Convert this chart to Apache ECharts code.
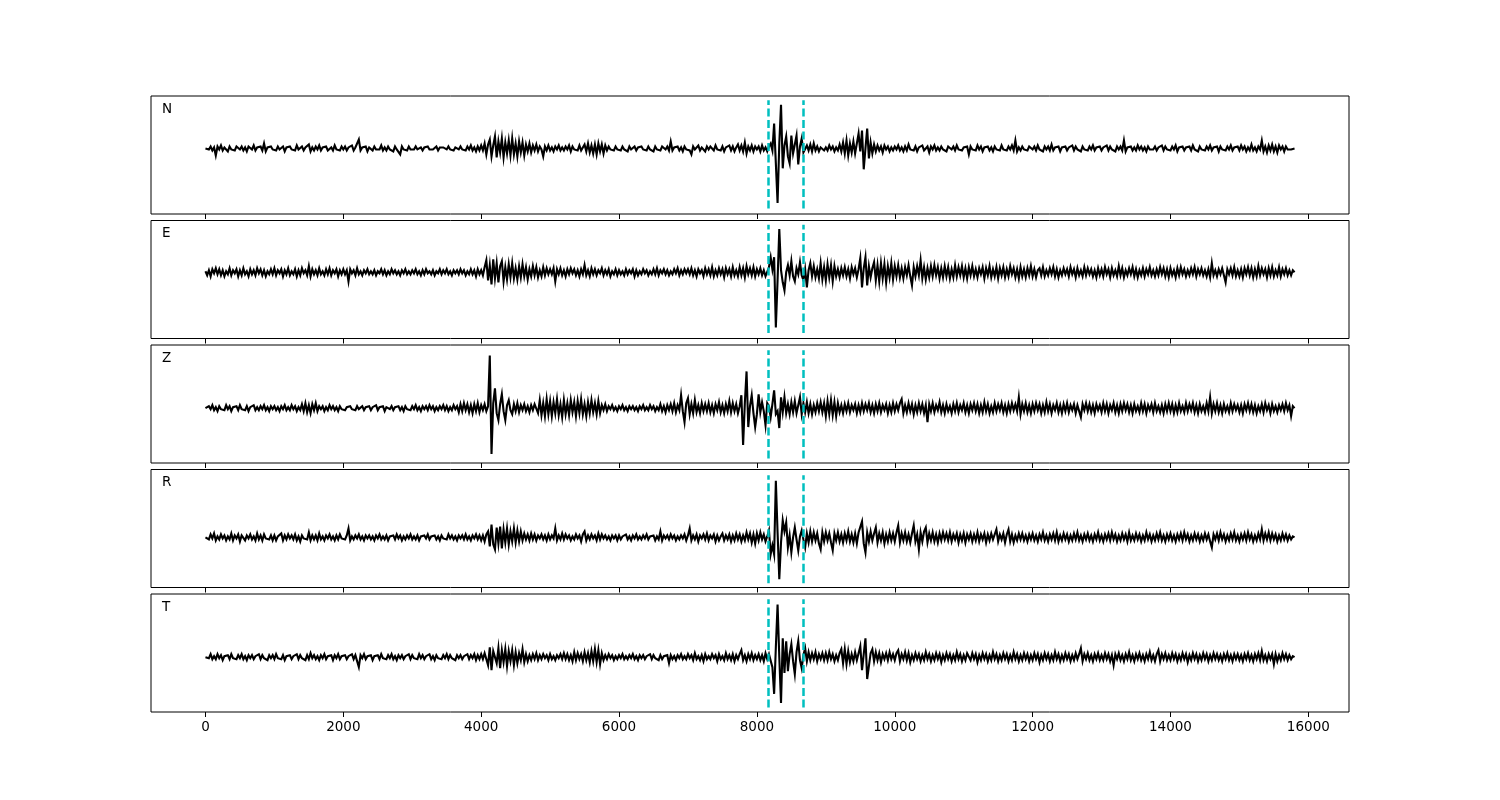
<!DOCTYPE html>
<html>
<head>
<meta charset="utf-8">
<script src="https://cdn.jsdelivr.net/npm/echarts@6/dist/echarts.min.js"></script>
<style>html,body{margin:0;padding:0;background:#fff;}#chart{width:1500px;height:800px;}</style>
</head>
<body>
<div id="chart"></div>
<script>
// Sample spacing between the read values (x = index * STEP)
const STEP = 25;
const channels = ['N', 'E', 'Z', 'R', 'T'];
const xTicks = [0, 2000, 4000, 6000, 8000, 10000, 12000, 14000, 16000];
const pickTimes = [8160, 8670];

const traceN = [
  0, 1, -1, 2, -2, 1, -7, 2, -1, 3,  -2, 1, 0, -3, 2, -1, 1, -2, 2, 0,  -1, 2, -2, 1, -3, 2, 0, -1, 3, -2,  1, -1, 2, -2, 5, -3, 1, -1, 2, -1,
  1, -2, 2, -1, 0, 2, -3, 1, -1, 2,  -1, 1, -2, 3, -1, 0, 2, -2, 1, -1,  4, -3, 1, -2, 2, -1, 3, -2, 1, -1,  2, -2, 0, 1, -2, 3, -1, 1, -2, 2,
  -1, 2, -2, 1, -1, 3, -2, 1, 0, 9,  -2, 1, -1, 2, -3, 1, 0, -2, 2, -1,  1, -1, 3, -2, 1, -2, 2, -1, 1, -3,  2, -1, 1, -6, 2, -1, 1, -2, 2, -1,
  1, -1, 2, -1, 0, 1, -2, 1, -1, 2,  -1, 1, -1, 0, 2, -2, 1, -1, 1, 0,  -1, 2, -1, 1, -2, 1, 0, -1, 2, -1,  1, -2, 2, -1, 3, -2, 1, -3, 2, -2,
  3, -2, 5, -6, 4, 9, -8, 3, 12, -9,  7, -4, 10, -9, 6, -5, 8, -7, 10, -6,  5, -8, 7, -4, 6, -7, 4, -3, 5, -4,  3, -2, 4, -3, 2, -1, -8, 2, -2, 3,
  -2, 1, -3, 2, -1, 3, -2, 1, -2, 2,  -1, 3, -3, 2, -1, 1, -2, 3, -2, 1,  4, -3, 5, -4, 3, -5, 4, -6, 5, -3,  4, -5, 3, -2, 2, -1, 1, -2, 2, -1,
  1, -2, 2, -1, 1, -3, 2, -1, 0, 2,  -2, 1, -1, 2, -1, 1, -2, 2, -1, 1,  -3, 2, -1, 1, -2, 2, 0, -1, 2, -2,  7, -2, 1, -1, 2, -2, 1, -3, 2, -1,
  1, -2, -6, 2, -1, 1, 3, -2, 1, -1,  -3, 2, -1, 2, 0, -2, 3, -1, 1, -2,  2, -3, 1, -1, 3, -2, 2, -3, 1, 4,  -2, 3, -3, 6, -5, 2, -2, 3, -3, 2,
  -1, 2, -3, 3, -2, 1, -3, 2, 5, -2,  25, -15, -55, 5, 44, -20, 3, 12, -8, -15,  13, -5, 4, 13, -16, 2, 10, -4, -6, 3,  -2, 4, -3, 5, -2, 2, -3, 1, 2, -2,
  1, -2, 3, -1, 2, -3, 1, -2, 4, -3,  6, -5, 8, -7, 5, -4, 7, -5, -6, 15,  -3, 18, -21, 0, 20, -10, 6, -5, 4, -3,  3, -2, 2, -4, 3, -1, 2, -3, 1, -2,
  2, -1, 3, -2, 1, -3, 2, -2, 4, -1,  1, -2, 2, -3, 1, -1, 3, -2, 0, 2,  -4, 2, -1, 3, -2, 1, -2, 2, -1, 1,  -3, 2, 0, -1, 2, -2, 3, -1, 1, -2,
  1, -1, 2, -6, 2, -1, 1, -2, 3, -1,  2, -3, 1, -1, 2, -2, 1, -3, 2, -1,  1, -2, 3, -1, 1, -2, 2, -1, 3, -2,  8, -3, 1, -2, 2, -1, 1, -2, 2, 0,
  -1, 2, -2, 3, -1, 1, -3, 2, -1, 2,  -2, 4, -2, 1, -1, 2, -3, 1, 0, 2,  -2, 1, -1, 3, -2, 2, -1, 1, -3, 2,  -1, 1, -2, 2, -1, 3, -2, 1, -1, 2,
  -2, 1, -1, 3, -2, 2, -1, 1, -3, 2,  -1, 2, -2, 8, -3, 1, -1, 2, -2, 1,  -2, 3, -1, 2, -2, 1, -3, 2, -1, 1,  -1, 2, -2, 1, -1, 3, -2, 2, -1, 1,
  -2, 2, -1, 3, -3, 1, -1, 2, -2, 1,  -1, 2, -2, 3, -1, 1, -3, 2, -1, 1,  -2, 2, -1, 3, -2, 1, -1, 2, -3, 2,  -1, 1, -2, 2, -1, 3, -2, 1, -1, 2,
  -2, 3, -1, 2, -3, 1, -2, 4, -2, 1,  -3, 2, -1, 8, -3, 2, -4, 3, -2, 4,  -3, 2, -4, 3, -1, 2, -3, 2, -1, 1,  -1, 1, 0
];

const traceE = [
  1, -3, 2, -4, 3, -1, 4, -2, 3, -3,  2, -4, 1, -2, 4, -3, 2, -1, 3, -4,  2, -3, 4, -2, 1, -4, 3, -2, 2, -3,  4, -1, 3, -3, 2, -4, 1, -2, 3, -2,
  4, -3, 2, -1, 3, -4, 2, -2, 4, -3,  1, -2, 3, -4, 2, -3, 4, -1, 2, -3,  6, -4, 3, -2, 2, -3, 4, -2, 1, -3,  3, -2, 4, -3, 2, -1, 3, -4, 2, -2,
  3, -2, 2, -9, 3, -1, 2, -3, 4, -2,  1, -3, 2, -1, 3, -2, 1, -2, 2, -3,  1, -1, 3, -2, 2, -3, 1, -2, 3, -1,  2, -2, 1, -3, 2, -1, 3, -2, 1, -2,
  2, -1, 3, -2, 1, -3, 2, -2, 3, -1,  1, -2, 2, -3, 1, -1, 3, -2, 2, -1,  3, -2, 1, -3, 2, -1, 2, -2, 3, -1,  2, -3, 1, -2, 3, -2, 2, -4, 3, -2,
  2, -3, 5, 12, -8, 7, -12, 13, -6, 9,  -10, 6, 11, -9, 5, -7, 8, -5, 9, -6,  4, -7, 6, -5, 8, -4, 5, -7, 3, -4,  6, -3, 5, -5, 2, -4, 5, -3, 4, -2,
  3, -2, 4, -9, 3, -2, 4, -3, 2, -4,  3, -2, 4, -1, 3, -3, 2, -4, 3, -2,  7, -3, 2, -4, 4, -2, 3, -3, 2, -1,  4, -3, 2, -2, 3, -4, 1, -2, 3, -3,
  2, -2, 1, -3, 3, -2, 2, -1, 3, -4,  2, -3, 1, -2, 3, -1, 2, -3, 1, -2,  3, -2, 4, -3, 2, -1, 3, -2, 2, -3,  1, -2, 3, -1, 4, -3, 2, -2, 3, -1,
  3, -2, 4, -3, 2, -4, 3, -1, 2, -4,  4, -2, 3, -3, 5, -4, 2, -3, 4, -2,  3, -5, 4, -2, 3, -4, 5, -3, 2, -4,  5, -3, 4, -5, 6, -2, 4, -3, 5, -4,
  3, -2, 4, -3, 2, -4, -3, 5, 15, 3,  15, -55, -8, 43, 2, -10, -18, 0, 7, -3,  11, -4, -9, 4, -2, 10, -3, -8, 3, -15,  2, 9, -4, 6, -5, 3, -6, 9, -7, 5,
  -8, 8, -5, 7, -9, 6, -4, 3, -5, 4,  -3, 5, -4, 3, -6, 5, -2, 4, -5, 3,  14, -15, 4, 15, -13, 6, -5, 4, 10, -8,  7, -9, 9, -6, 8, -10, 6, -5, 9, -7,
  6, -4, 7, -5, 4, -6, 5, -3, 7, -4,  -13, 5, -4, 6, -3, 12, -6, 5, -7, 4,  -5, 6, -4, 7, -3, 5, -6, 4, -5, 6,  -4, 5, -6, 3, -5, 7, -4, 5, -3, 6,
  -5, 4, -6, 5, -3, 6, -4, 3, -5, 4,  -2, 5, -6, 4, -3, 6, -5, 3, -4, 5,  -6, 4, -3, 5, -5, 3, -4, 6, -2, 4,  -5, 3, -6, 5, -4, 3, -5, 4, -3, 6,
  -4, 3, -5, 2, 4, -3, 5, -4, 2, -3,  4, -2, 5, -4, 3, -5, 2, -3, 4, -2,  3, -4, 5, -2, 3, -5, 4, -3, 2, -4,  5, -3, 4, -2, 3, -4, 2, -5, 4, -3,
  3, -4, 5, -2, 3, -5, 4, -3, 2, -4,  6, -3, 4, -5, 2, -3, 4, -2, 5, -4,  3, -5, 2, -3, 4, -4, 3, -2, 5, -3,  2, -4, 3, -3, 5, -2, 4, -4, 3, -5,
  4, -3, 2, -5, 4, -3, 5, -2, 3, -4,  2, -3, 4, -2, 5, -4, 3, -2, 4, -3,  2, -4, 3, -5, 9, -3, 2, -4, 3, -2,  4, -3, -10, 3, -2, 4, -3, 5, -4, 2,
  -4, 3, -5, 4, -2, 5, -3, 4, -5, 3,  -4, 6, -3, 4, -2, 3, -5, 4, -3, 5,  -4, 2, -3, 5, -4, 3, -2, 4, -3, 2,  -3, 2, 0
];

const traceZ = [
  0, -2, 2, -1, 3, -2, 1, -3, 2, -1,  1, -2, 3, -1, 2, -3, 1, -1, 2, -2,  3, -1, 1, -2, 2, -3, 1, -1, 3, -2,  1, -2, 2, -1, 3, -2, 1, -3, 2, -1,
  2, -2, 1, -3, 2, -1, 3, -2, 1, -2,  3, -1, 2, -3, 1, -2, 4, -3, 5, -4,  3, -5, 4, -2, 5, -3, 2, -1, 2, -3,  1, -2, 3, -1, 2, -2, 1, -3, 2, -1,
  1, -2, 1, -1, 2, -1, 1, -2, 2, -1,  0, 2, -2, 1, -1, 2, -2, 1, -1, 3,  -2, 1, -1, 2, -3, 1, 0, -1, 2, -2,  1, -1, 2, -2, 1, -3, 2, -1, 1, -2,
  2, -1, 3, -2, 1, -3, 2, -1, 2, -2,  3, -1, 2, -3, 1, -2, 2, -1, 3, -2,  2, -3, 1, -2, 3, -1, 2, -4, 4, -3,  5, -2, 4, -4, 3, -5, 4, -3, 5, -4,
  3, -2, 4, -3, 2, 53, -46, 5, 20, -5,  -12, 4, 14, -3, -12, 3, 8, -2, -6, 4,  -3, 5, -4, 3, -2, 4, -3, 2, -4, 3,  -2, 4, 6, -5, 8, -7, 5, -8, 9, -6,
  7, -8, 6, -5, 9, -7, 4, -9, 8, -6,  5, -7, 8, -4, 6, -8, 7, -5, 9, -6,  4, -8, 6, -5, 8, -4, 5, -6, 7, -5,  3, -2, 4, -3, 2, -1, 3, -2, 1, -3,
  2, -1, 3, -2, 1, -3, 2, -1, 2, -2,  1, -3, 2, -1, 3, -2, 1, -2, 3, -1,  2, -3, 1, -2, 4, -3, 2, -4, 3, -2,  4, -3, 5, -4, 3, -2, 13, -3, -14, 5,
  10, -6, 4, -5, 8, -4, 3, -5, 5, -3,  4, -3, 5, -4, 3, -5, 4, -2, 6, -4,  3, -5, 4, -3, 7, -4, 5, -3, 4, -5,  2, 13, -37, 5, 37, -19, 2, 13, -5, -19,
  -6, 14, -4, 6, -3, -17, 5, 2, -9, 4,  18, -6, -3, -20, 11, -4, 11, -5, 4, -6,  6, -4, 7, -5, 3, 11, -6, 5, -4, 6,  -5, 4, -6, 3, -4, 5, -3, 6, -4, 5,
  -8, 7, -6, 8, -7, 6, -8, 5, -4, 3,  -5, 4, -3, 5, -4, 3, -2, 4, -5, 3,  -4, 5, -3, 4, -2, 5, -4, 3, -5, 4,  -3, 5, -4, 3, -2, 4, -5, 3, -4, 5,
  -3, 4, -2, 5, 9, -5, 3, -4, 5, -3,  4, -6, 3, -4, 5, -3, 4, -5, 3, -14,  4, -3, 5, -4, 3, -2, 6, -4, 3, -5,  4, -3, 2, -5, 4, -3, 5, -4, 3, -2,
  5, -4, 3, -5, 4, -2, 5, -3, 4, -5,  3, -4, 6, -3, 4, -5, 2, -4, 5, -3,  4, -2, 5, -4, 3, -5, 4, -3, 5, -2,  4, -3, 11, -6, 4, -3, 5, -4, 3, -5,
  4, -3, 5, -2, 4, -5, 3, -4, 6, -3,  4, -5, 3, -2, 5, -4, 3, -5, 4, -3,  5, -4, 3, -2, 4, -5, 3, -3, -9, 4,  -2, 5, -3, 4, -4, 3, -5, 4, -2, 3,
  -4, 5, -3, 4, -5, 3, -2, 5, -4, 3,  -5, 4, -3, 5, -2, 4, -4, 3, -5, 4,  -3, 2, -4, 5, -3, 4, -5, 3, -2, 4,  -4, 5, -3, 2, -4, 3, -5, 4, -3, 5,
  -3, 4, -5, 3, -4, 5, -3, 2, -4, 5,  -3, 4, -2, 5, -4, 3, -5, 4, -3, 2,  -4, 5, -3, 11, -5, 4, -3, 5, -4, 3,  -5, 4, -3, 2, -4, 5, -3, 4, -2, 3,
  -4, 3, -5, 4, -2, 5, -3, 4, -4, 3,  -5, 2, -3, 4, -4, 5, -2, 3, -5, 4,  -3, 2, -4, 3, -2, 4, -3, 5, -2, 3,  -8, 2, 0
];

const traceR = [
  0, 2, -2, 3, -1, 4, -3, 1, -2, 3,  -1, 2, -3, 1, -2, 4, -3, 2, -1, 3,  -4, 2, 1, -3, 2, -1, 3, -2, 1, -3,  4, -2, 2, -3, 3, -1, 1, -2, 2, -3,
  2, -3, 1, -1, 4, -3, 2, -2, 3, -1,  2, -2, 3, -3, 1, -4, 2, -1, 1, -2,  5, -3, 2, -2, 2, -3, 4, -2, 1, -3,  2, -1, 3, -2, 1, -3, 2, -2, 3, -1,
  1, -2, 2, 9, -3, 1, -2, 2, -1, 3,  -2, 1, -3, 2, -1, 2, -2, 1, -3, 2,  -1, 3, -2, 1, -2, 2, -3, 1, -1, 2,  -2, 3, -1, 2, -3, 1, -2, 2, -1, 3,
  -2, 1, -2, 2, -3, 1, -1, 2, -1, 3,  -2, 1, -1, 2, -2, 1, -3, 2, -1, 1,  -2, 3, -1, 2, -2, 1, -3, 2, -1, 2,  -2, 3, -2, 1, -3, 2, -1, 3, -2, 2,
  -3, 2, -4, 3, 6, -9, 13, -7, -12, 10,  -6, 11, -11, 8, -5, 9, -7, 6, -4, 9,  -5, 7, -4, 6, -3, 4, -2, 3, -3, 4,  -2, 3, -3, 2, -1, 3, -2, 2, -3, 3,
  -2, 2, -1, 9, -3, 2, -2, 4, -2, 3,  -1, 2, -3, 1, -2, 3, -1, 2, -4, 3,  6, -3, 2, -2, 3, -1, 2, -3, 4, -2,  3, -1, 2, -2, 1, -3, 2, -1, 2, -3,
  2, -2, 1, -1, 3, -2, 1, -3, 2, -1,  3, -2, 1, -2, 2, -1, 3, -2, 1, -1,  2, -3, 1, -2, 6, -3, 2, -1, 2, -2,  3, -1, 2, -3, 1, -2, 2, -1, 3, -3,
  2, 9, -3, 2, -2, 3, -4, 2, -1, 3,  -2, 4, -3, 2, -1, 3, -4, 2, -3, 1,  4, -3, 2, -2, 3, -4, 2, -3, 4, -2,  3, -4, 2, -3, 5, -2, 4, -5, 3, -6,
  4, -3, 5, -2, 3, -4, 1, 7, -17, -8,  -17, 57, 5, -42, -5, 17, 6, 15, -10, 2,  -15, 0, 10, -2, -13, 1, 7, -2, -10, 4,  -5, 6, -4, 5, -3, 4, -6, -12, 5, -4,
  5, -3, 4, -5, -13, 4, -3, 5, -4, 3,  -5, 4, -3, 6, -4, 3, -5, 4, -6, 5,  3, 16, -6, -15, 5, -4, 6, -3, 4, 10,  -5, 4, -3, 5, -6, 3, -4, 5, -3, 4,
  -4, 5, 12, -5, 4, -3, 5, -4, 3, -5,  4, 12, -4, 3, -12, 5, -4, 6, 10, -5,  4, -3, 5, -4, 3, -5, 4, -3, 5, -2,  4, -3, 5, -4, 3, -2, 4, -5, 3, -3,
  4, -5, 3, -2, 4, -4, 3, -3, 5, -4,  3, -2, 4, -5, 3, -3, 4, -2, 3, 8,  -4, 3, -2, 4, -5, 3, 8, -4, 3, -5,  2, -3, 4, -2, 4, -3, 2, -4, 3, -2,
  4, -3, 2, -4, 3, -2, 5, -3, 2, -4,  3, -2, 4, -3, 5, -4, 2, -3, 4, -2,  3, -4, 2, -3, 4, -2, 5, -3, 2, -4,  3, -2, 4, -3, 2, -4, 3, -2, 5, -3,
  2, -4, 3, -2, 4, -3, 5, -2, 3, -4,  2, -3, 4, -2, 3, -4, 5, -3, 2, -3,  4, -2, 3, -4, 2, -3, 5, -2, 3, -4,  2, -3, 4, -2, 5, -3, 2, -4, 3, -2,
  4, -3, 2, -4, 3, -2, 4, -3, 5, -2,  3, -4, 2, -3, 4, -2, 3, -4, 2, -3,  4, -2, 3, -4, -10, 3, -2, 4, -3, 5,  -2, 3, -4, 2, -3, 4, -2, 5, -3, 2,
  -4, 3, -2, 4, -3, 5, -2, 3, -4, 2,  -3, 4, -2, 8, -3, 4, -2, 5, -3, 4,  -2, 3, -4, 2, -3, 4, -2, 3, -3, 2,  -2, 1, 0
];

const traceT = [
  0, 2, -1, 3, -2, 1, -2, 3, -1, 2,  -3, 1, -1, 2, -2, 3, -1, 1, -2, 2,  -1, 3, -2, 1, -3, 2, -1, 2, -2, 1,  -1, 3, -2, 2, -1, 1, -3, 2, -1, 2,
  -2, 3, -1, 1, -2, 2, -3, 1, -1, 2,  -2, 1, -1, 3, -2, 2, -1, 1, -3, 2,  -2, 4, -1, 2, -2, 1, -3, 2, -1, 3,  -2, 1, -1, 2, -3, 2, -1, 3, -2, 1,
  -1, 2, -2, 1, -1, 3, -2, 2, 1, -10,  2, -1, 3, -2, 1, -1, 2, -3, 1, -1,  2, -2, 3, -1, 1, -2, 2, -1, 3, -2,  1, -3, 2, -1, 2, -2, 1, -1, 3, -2,
  2, -1, 1, -2, 3, -1, 2, -2, 1, -1,  3, -2, 1, -3, 2, -1, 1, -2, 2, -1,  3, -2, 2, -1, 1, -3, 2, -1, 2, -2,  1, -1, 3, -2, 2, -1, 3, -3, 2, -2,
  3, -2, 4, 5, -8, 10, -13, 6, 8, -6,  9, -11, 7, -5, 8, -9, 6, -4, 7, -8,  5, -6, 4, -3, 8, -5, 3, -4, 2, -3,  3, -2, 4, -3, 2, -2, 3, -1, 2, -3,
  3, -2, 1, -3, 2, -1, 3, -2, 4, -2,  3, -3, 2, -4, 5, -3, 4, -2, 3, -4,  5, -3, 4, -5, 6, -4, 8, -5, 7, -7,  4, -3, 2, -2, 3, -1, 2, -3, 1, -2,
  2, -1, 3, -2, 1, -2, 2, -1, 3, -2,  1, -3, 2, -1, 2, -2, 1, -1, 3, -2,  2, -1, 1, -3, 2, -2, 1, -1, 2, -6,  2, -2, 1, -3, 2, -1, 3, -2, 1, -2,
  3, -1, 2, -3, 4, -2, 1, -3, 2, -4,  3, -2, 1, -2, 3, -1, 2, -4, 3, -2,  1, -3, 4, -2, 2, -3, 3, -4, 2, -2,  3, 7, -3, 2, -4, 3, -2, 4, -3, 2,
  -2, 3, -3, 2, -4, 4, -2, 3, 3, -10,  -37, 10, 53, 0, -46, 19, -16, 16, -14, 3,  13, -4, -17, 5, 16, -3, -11, 2, 9, -4,  5, -3, 4, -2, 5, -4, 3, -2, 4, -3,
  4, -3, 5, -2, 3, -4, 2, -3, 4, 8,  -6, 8, -7, 6, -5, 3, -4, 5, -3, 4,  11, -13, 3, 19, -22, -22, 4, 8, -4, 5,  -3, 4, -5, 3, -2, 4, -3, 5, -2, 3,
  -3, 4, 7, -4, 3, -2, 5, -3, 4, -5,  2, -3, 4, -2, 3, -4, 2, -3, 5, -2,  3, -4, 2, -3, 4, -2, 3, -5, 2, -3,  4, -2, 3, -4, 2, -3, 5, -2, 3, -4,
  2, -3, 4, 6, -3, 4, -2, 3, -5, 2,  -3, 4, -2, 3, -4, 2, -3, 5, -2, 3,  -4, 2, -3, 4, -2, 3, -4, 2, -3, 5,  -2, 3, -4, 2, -3, 4, -2, 3, -4, 2,
  -3, 4, -2, 3, -5, 2, -3, 4, -2, 3,  -4, 2, -3, 5, -2, 3, -4, 2, -3, 4,  -2, 3, -4, 2, -3, 4, -2, 3, 9, -4,  3, -2, 4, -3, 2, -4, 3, -2, 4, -3,
  2, -3, 4, -2, 3, -4, 2, -8, 3, -2,  4, -3, 2, -4, 3, -2, 5, -3, 2, -4,  3, -2, 4, -3, 2, -4, 3, -2, 5, -3,  2, -4, 3, 7, -4, 3, -2, 4, -3, 2,
  -3, 4, -2, 3, -4, 2, -3, 4, -2, 3,  -5, 2, -3, 4, -2, 3, -4, 2, -3, 4,  -2, 3, -4, 2, -3, 4, -2, 3, -3, 2,  -4, 3, -2, 4, -3, 2, -4, 3, -2, 3,
  -3, 2, -4, 3, -2, 4, -3, 2, -4, 3,  -2, 4, -3, 6, -3, 2, -4, 3, -2, 3,  -7, 3, -4, 2, -3, 4, -2, 3, -3, 2,  -2, 1, 0
];

const traces = [traceN, traceE, traceZ, traceR, traceT];

const FONT = 'DejaVu Sans';
const gridTops = [96, 220.5, 345, 469.5, 594];
const gridH = 118;

const grids = [], xAxes = [], yAxes = [], series = [], graphics = [];
channels.forEach((ch, k) => {
  const arr = traces[k];
  const lo = Math.min(...arr), hi = Math.max(...arr);
  grids.push({ left: 151, width: 1198, top: gridTops[k], height: gridH,
    show: true, borderColor: '#000', borderWidth: 1, backgroundColor: 'transparent' });
  xAxes.push({
    type: 'value', gridIndex: k, min: -790, max: 16590, position: 'bottom',
    axisLine: { show: false, onZero: false },
    splitLine: { show: false },
    axisTick: { show: true, inside: false, length: 5, customValues: xTicks,
      lineStyle: { color: '#000', width: 1 } },
    axisLabel: { show: k === channels.length - 1, customValues: xTicks, margin: 8,
      color: '#000', fontSize: 13.5, fontFamily: FONT,
      formatter: v => String(v) }
  });
  yAxes.push({ type: 'value', gridIndex: k, min: 1.2 * lo, max: 1.2 * hi, show: false,
    splitLine: { show: false } });
  series.push({
    type: 'line', xAxisIndex: k, yAxisIndex: k,
    data: arr.map((v, i) => [i * STEP, v]),
    smooth: false, sampling: null,
    showSymbol: false, symbol: 'none', silent: true, animation: false,
    lineStyle: { color: '#000', width: 2.1, join: 'miter', cap: 'butt' },
    markLine: {
      silent: true, symbol: ['none', 'none'], animation: false,
      label: { show: false },
      lineStyle: { color: '#00bfbf', width: 2.5, type: [8, 3.5] },
      data: pickTimes.map(t => [{ coord: [t, 1.1 * lo] }, { coord: [t, 1.1 * hi] }])
    }
  });
  graphics.push({
    type: 'text', left: 162, top: gridTops[k] + 6,
    style: { text: ch, fill: '#000', font: '13.5px "' + FONT + '"' }
  });
});

const chart = echarts.init(document.getElementById('chart'), null, { renderer: 'canvas' });
chart.setOption({
  animation: false,
  backgroundColor: '#fff',
  textStyle: { fontFamily: FONT },
  grid: grids, xAxis: xAxes, yAxis: yAxes, series: series,
  graphic: graphics
});
</script>
</body>
</html>
